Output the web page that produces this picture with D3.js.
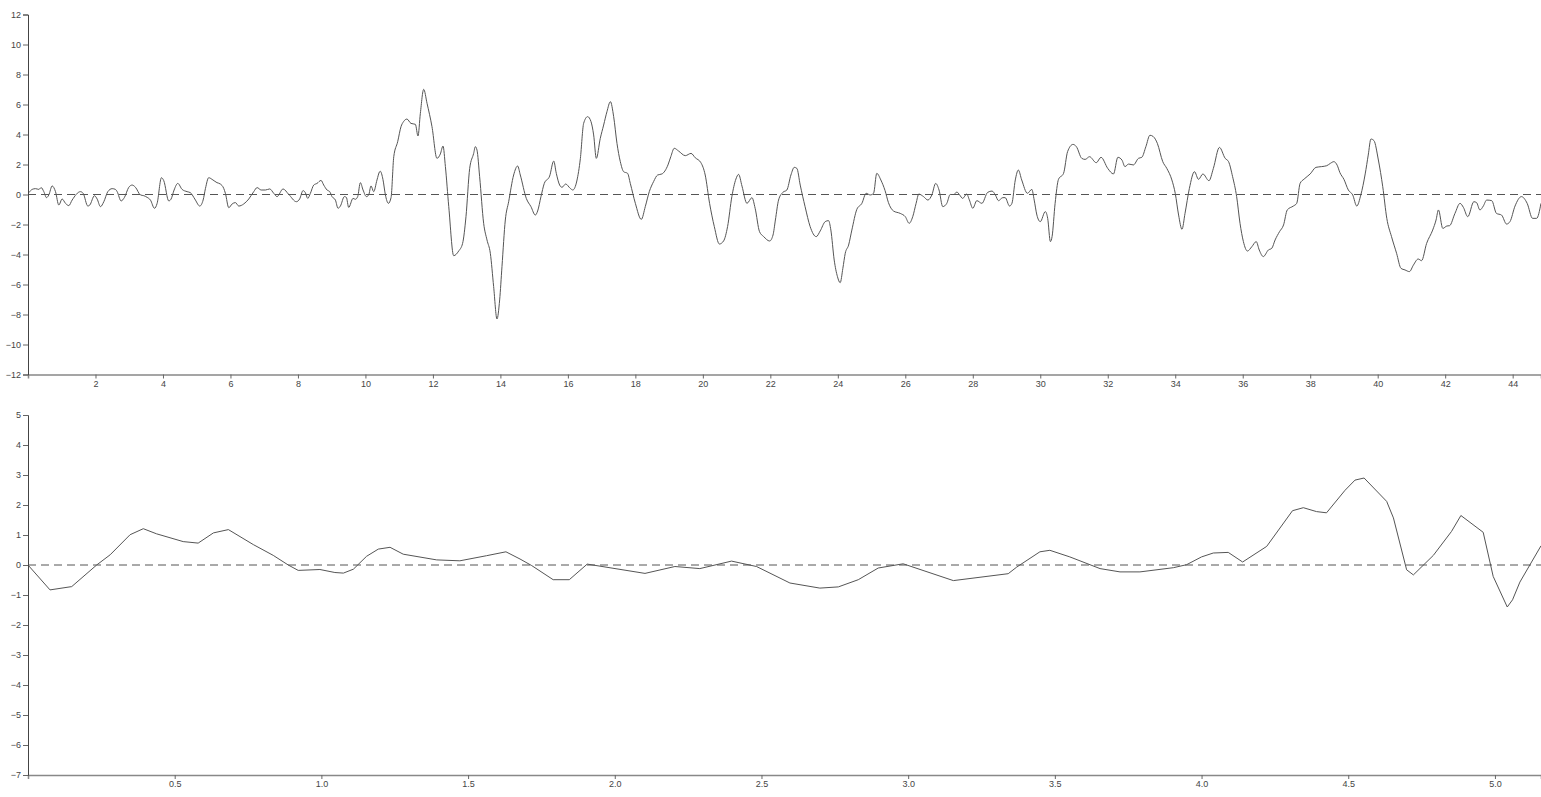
<!DOCTYPE html>
<html>
<head>
<meta charset="utf-8">
<script src="https://cdn.jsdelivr.net/npm/d3@7"></script>
<style>
  html, body { margin: 0; padding: 0; background: #fff; }
  svg { display: block; }
  .tick text { font-family: "Liberation Sans", Arial, sans-serif; font-size: 9px; fill: #444; }
</style>
</head>
<body>
<svg id="chart" width="1541" height="797"></svg>
<script>
// ---------- Top panel data ----------
const topX = [0.025,0.123,0.222,0.321,0.39,0.469,0.548,0.617,0.716,0.815,0.913,1.012,1.111,1.21,1.308,1.555,1.634,1.773,1.832,1.97,2.049,2.148,2.247,2.365,2.494,2.592,2.642,2.76,2.859,2.987,3.086,3.185,3.333,3.432,3.531,3.629,3.748,3.827,3.955,4.024,4.172,4.241,4.33,4.439,4.567,4.715,4.814,4.913,4.962,5.09,5.19,5.26,5.355,5.48,5.6,5.7,5.8,5.85,5.95,6.05,6.147,6.246,6.394,6.543,6.69,6.79,6.91,7.036,7.164,7.283,7.381,7.559,7.726,7.954,8.05,8.152,8.22,8.29,8.369,8.468,8.566,8.685,8.764,8.863,8.942,9.01,9.11,9.188,9.258,9.376,9.435,9.504,9.633,9.702,9.771,9.85,9.93,10.03,10.097,10.166,10.245,10.343,10.42,10.44,10.52,10.59,10.68,10.76,10.84,10.956,11.054,11.13,11.23,11.35,11.48,11.558,11.628,11.727,11.826,11.973,12.12,12.22,12.3,12.37,12.47,12.616,12.764,12.88,12.98,13.09,13.208,13.257,13.307,13.385,13.504,13.603,13.702,13.8,13.899,13.978,14.047,14.146,14.245,14.393,14.511,14.59,14.768,14.906,15.035,15.104,15.203,15.301,15.46,15.58,15.657,15.756,15.826,15.934,16.07,16.146,16.265,16.37,16.467,16.585,16.685,16.764,16.843,16.96,17.06,17.158,17.26,17.357,17.455,17.554,17.653,17.77,17.85,18.0,18.176,18.294,18.413,18.54,18.66,18.788,18.966,19.05,19.153,19.28,19.48,19.65,19.775,19.943,20.07,20.2,20.34,20.49,20.614,20.733,20.86,20.98,21.06,21.16,21.307,21.455,21.55,21.68,21.8,21.98,22.08,22.15,22.244,22.37,22.49,22.61,22.71,22.787,22.886,23.03,23.18,23.36,23.478,23.626,23.725,23.794,23.893,23.99,24.07,24.15,24.22,24.32,24.416,24.564,24.713,24.84,24.96,25.06,25.155,25.275,25.4,25.5,25.65,25.85,26.0,26.115,26.22,26.32,26.4,26.54,26.67,26.787,26.9,27.0,27.11,27.23,27.33,27.43,27.53,27.61,27.7,27.82,27.9,28.0,28.12,28.27,28.44,28.57,28.67,28.76,28.89,28.96,29.09,29.16,29.26,29.35,29.45,29.62,29.75,29.82,29.9,30.0,30.15,30.22,30.3,30.35,30.44,30.54,30.69,30.81,30.97,31.07,31.23,31.33,31.46,31.66,31.8,32.0,32.17,32.3,32.42,32.51,32.62,32.76,32.91,33.01,33.13,33.25,33.35,33.47,33.63,33.75,33.9,34.0,34.1,34.2,34.29,34.42,34.57,34.69,34.82,35.0,35.13,35.31,35.48,35.58,35.7,35.82,35.92,36.02,36.14,36.27,36.4,36.49,36.61,36.76,36.86,36.96,37.09,37.21,37.32,37.5,37.6,37.7,37.82,38.0,38.17,38.34,38.49,38.6,38.7,38.8,38.88,39.0,39.13,39.26,39.38,39.5,39.63,39.72,39.8,39.89,40.02,40.15,40.27,40.41,40.56,40.69,40.81,40.94,41.06,41.2,41.3,41.45,41.63,41.73,41.8,41.93,42.05,42.13,42.29,42.44,42.54,42.67,42.85,42.93,43.03,43.13,43.23,43.38,43.52,43.67,43.82,43.92,44.07,44.26,44.43,44.59,44.71,44.84];
const topY = [0.12,0.34,0.39,0.34,0.46,0.19,-0.21,-0.03,0.57,0.19,-0.7,-0.3,-0.59,-0.74,-0.37,0.19,0.08,-0.77,-0.7,-0.08,-0.3,-0.81,-0.48,0.19,0.39,0.34,0.19,-0.43,-0.19,0.48,0.63,0.48,-0.03,-0.08,-0.19,-0.37,-0.92,-0.59,1.12,0.92,-0.43,-0.3,0.3,0.74,0.34,0.19,0.12,-0.19,-0.37,-0.77,-0.37,0.41,1.12,0.97,0.79,0.7,0.41,0.08,-0.88,-0.63,-0.54,-0.77,-0.63,-0.3,0.19,0.46,0.3,0.3,0.37,0.08,-0.14,0.37,0.01,-0.48,-0.3,0.26,0.12,-0.26,0.08,0.63,0.74,0.94,0.63,0.3,0.19,-0.14,-0.37,-0.92,-0.77,-0.14,-0.19,-0.86,-0.26,-0.32,-0.14,0.79,0.3,-0.14,-0.03,0.57,0.19,0.97,1.52,1.55,1.0,0.0,-0.59,-0.2,2.52,3.52,4.52,4.86,5.03,4.74,4.68,3.9,5.41,7.01,6.08,4.52,2.41,2.7,3.23,1.86,-0.81,-4.08,-3.77,-3.26,-1.48,1.74,2.74,3.19,2.96,1.19,-1.92,-3.03,-3.92,-6.14,-8.3,-7.03,-4.81,-1.7,-0.48,1.3,1.9,1.3,-0.26,-0.81,-1.37,-1.1,-0.14,0.74,1.23,2.23,1.41,0.63,0.48,0.7,0.41,0.3,0.9,2.4,4.74,5.19,4.86,3.97,2.41,3.74,4.63,5.52,6.19,5.19,3.41,2.19,1.52,1.41,0.74,-0.59,-1.66,-0.81,0.19,0.86,1.3,1.37,1.97,2.52,3.08,2.9,2.59,2.74,2.45,2.12,1.3,-0.59,-2.14,-3.3,-3.1,-2.14,-0.14,1.03,1.34,0.56,-0.59,-0.21,-0.92,-2.48,-2.8,-3.1,-2.7,-1.7,-0.37,0.14,0.3,1.3,1.81,1.74,0.63,-0.81,-2.14,-2.81,-2.43,-1.81,-1.74,-2.37,-4.37,-5.48,-5.88,-4.92,-3.92,-3.37,-2.37,-0.99,-0.59,0.08,-0.03,0.08,1.41,0.97,0.26,-0.54,-1.1,-1.26,-1.48,-1.92,-1.48,-0.59,0.03,-0.14,-0.37,-0.03,0.74,0.3,-0.81,-0.59,0.0,0.0,0.16,-0.03,-0.26,0.03,-0.37,-0.92,-0.41,-0.59,0.14,0.23,-0.03,-0.41,-0.21,-0.21,-0.77,-0.59,0.97,1.63,0.97,0.08,0.34,-0.37,-1.37,-1.81,-1.14,-1.59,-3.14,-2.81,-0.59,1.01,1.41,2.86,3.34,3.19,2.41,2.34,2.52,2.12,2.48,1.74,1.37,2.48,2.3,1.86,2.03,1.97,2.41,2.48,3.19,3.95,3.86,3.41,2.19,1.74,0.97,0.08,-1.37,-2.32,-1.26,0.41,1.52,1.01,1.37,0.92,1.74,3.14,2.41,2.19,1.19,-0.14,-1.92,-3.14,-3.77,-3.48,-3.14,-3.7,-4.14,-3.7,-3.59,-3.03,-2.48,-2.03,-1.03,-0.77,-0.59,0.74,1.03,1.37,1.81,1.86,1.92,2.08,2.19,1.95,1.46,1.01,0.3,-0.03,-0.77,-0.03,1.37,2.63,3.7,3.59,2.3,0.52,-1.59,-2.81,-3.92,-4.92,-5.03,-5.14,-4.7,-4.3,-4.41,-3.26,-2.37,-1.7,-1.03,-2.26,-2.1,-2.08,-1.26,-0.59,-0.86,-1.48,-0.48,-0.54,-1.03,-0.77,-0.37,-0.41,-1.26,-1.37,-1.97,-1.81,-0.77,-0.14,-0.59,-1.59,-1.59,-0.59];
const topXDomain = [0, 44.84];
const topYDomain = [-12, 12];
const topXTicks = [2,4,6,8,10,12,14,16,18,20,22,24,26,28,30,32,34,36,38,40,42,44];
const topYTicks = [-12,-10,-8,-6,-4,-2,0,2,4,6,8,10,12];

// ---------- Bottom panel data ----------
const botX = [0,0.075,0.149,0.234,0.28,0.348,0.393,0.438,0.529,0.58,0.632,0.683,0.768,0.836,0.887,0.921,0.995,1.046,1.075,1.109,1.154,1.194,1.234,1.279,1.393,1.472,1.563,1.629,1.677,1.717,1.79,1.845,1.906,2.103,2.205,2.29,2.398,2.483,2.597,2.699,2.762,2.83,2.898,2.983,3.154,3.341,3.37,3.449,3.483,3.551,3.654,3.722,3.79,3.904,3.949,4.0,4.04,4.091,4.14,4.222,4.31,4.347,4.392,4.426,4.489,4.523,4.554,4.631,4.654,4.699,4.722,4.79,4.852,4.884,4.96,4.994,5.042,5.06,5.085,5.157];
const botY = [0,-0.83,-0.72,0,0.34,1.01,1.21,1.04,0.78,0.73,1.07,1.18,0.68,0.32,0,-0.18,-0.15,-0.25,-0.27,-0.14,0.29,0.53,0.59,0.36,0.17,0.14,0.31,0.44,0.2,-0.02,-0.49,-0.49,0.03,-0.28,-0.05,-0.12,0.13,-0.05,-0.6,-0.77,-0.73,-0.49,-0.1,0.04,-0.52,-0.29,-0.07,0.44,0.49,0.27,-0.12,-0.23,-0.23,-0.09,0.01,0.27,0.4,0.42,0.1,0.62,1.81,1.91,1.78,1.74,2.49,2.83,2.9,2.12,1.57,-0.16,-0.33,0.32,1.12,1.65,1.09,-0.38,-1.4,-1.16,-0.57,0.64];
const botXDomain = [0, 5.157];
const botYDomain = [-7, 5];
const botXTicks = [0.5,1.0,1.5,2.0,2.5,3.0,3.5,4.0,4.5,5.0];
const botYTicks = [-7,-6,-5,-4,-3,-2,-1,0,1,2,3,4,5];

const svg = d3.select("#chart");
const left = 28, right = 1541;

function panel(xs, ys, xDom, yDom, xTicks, yTicks, top, bottom, curve, xFmt) {
  const x = d3.scaleLinear().domain(xDom).range([left, right]);
  const y = d3.scaleLinear().domain(yDom).range([bottom, top]);
  const g = svg.append("g");

  // zero line
  g.append("line")
    .attr("x1", left).attr("x2", right)
    .attr("y1", y(0)).attr("y2", y(0))
    .attr("stroke", "#555").attr("stroke-width", 1)
    .attr("stroke-dasharray", "8,5");

  const data = xs.map((v, i) => [v, ys[i]]);
  g.append("path")
    .datum(data)
    .attr("fill", "none")
    .attr("stroke", "#555")
    .attr("stroke-width", 1)
    .attr("d", d3.line().x(d => x(d[0])).y(d => y(d[1])).curve(curve));

  const xa = g.append("g")
    .attr("transform", `translate(0,${bottom})`)
    .call(d3.axisBottom(x).tickValues(xTicks).tickSize(4).tickPadding(2).tickFormat(xFmt));
  xa.select(".domain").attr("stroke", "#888").attr("stroke-width", 1.5);
  xa.selectAll(".tick line").attr("stroke", "#666");

  const ya = g.append("g")
    .attr("transform", `translate(${left},0)`)
    .call(d3.axisLeft(y).tickValues(yTicks).tickSize(5).tickPadding(2).tickFormat(d3.format("d")));
  ya.select(".domain").attr("stroke", "#444").attr("stroke-width", 1);
  ya.selectAll(".tick line").attr("stroke", "#666");
}

panel(topX, topY, topXDomain, topYDomain, topXTicks, topYTicks, 14.5, 374.5, d3.curveMonotoneX, d3.format("d"));
panel(botX, botY, botXDomain, botYDomain, botXTicks, botYTicks, 415, 775, d3.curveLinear, d3.format(".1f"));
</script>
</body>
</html>
